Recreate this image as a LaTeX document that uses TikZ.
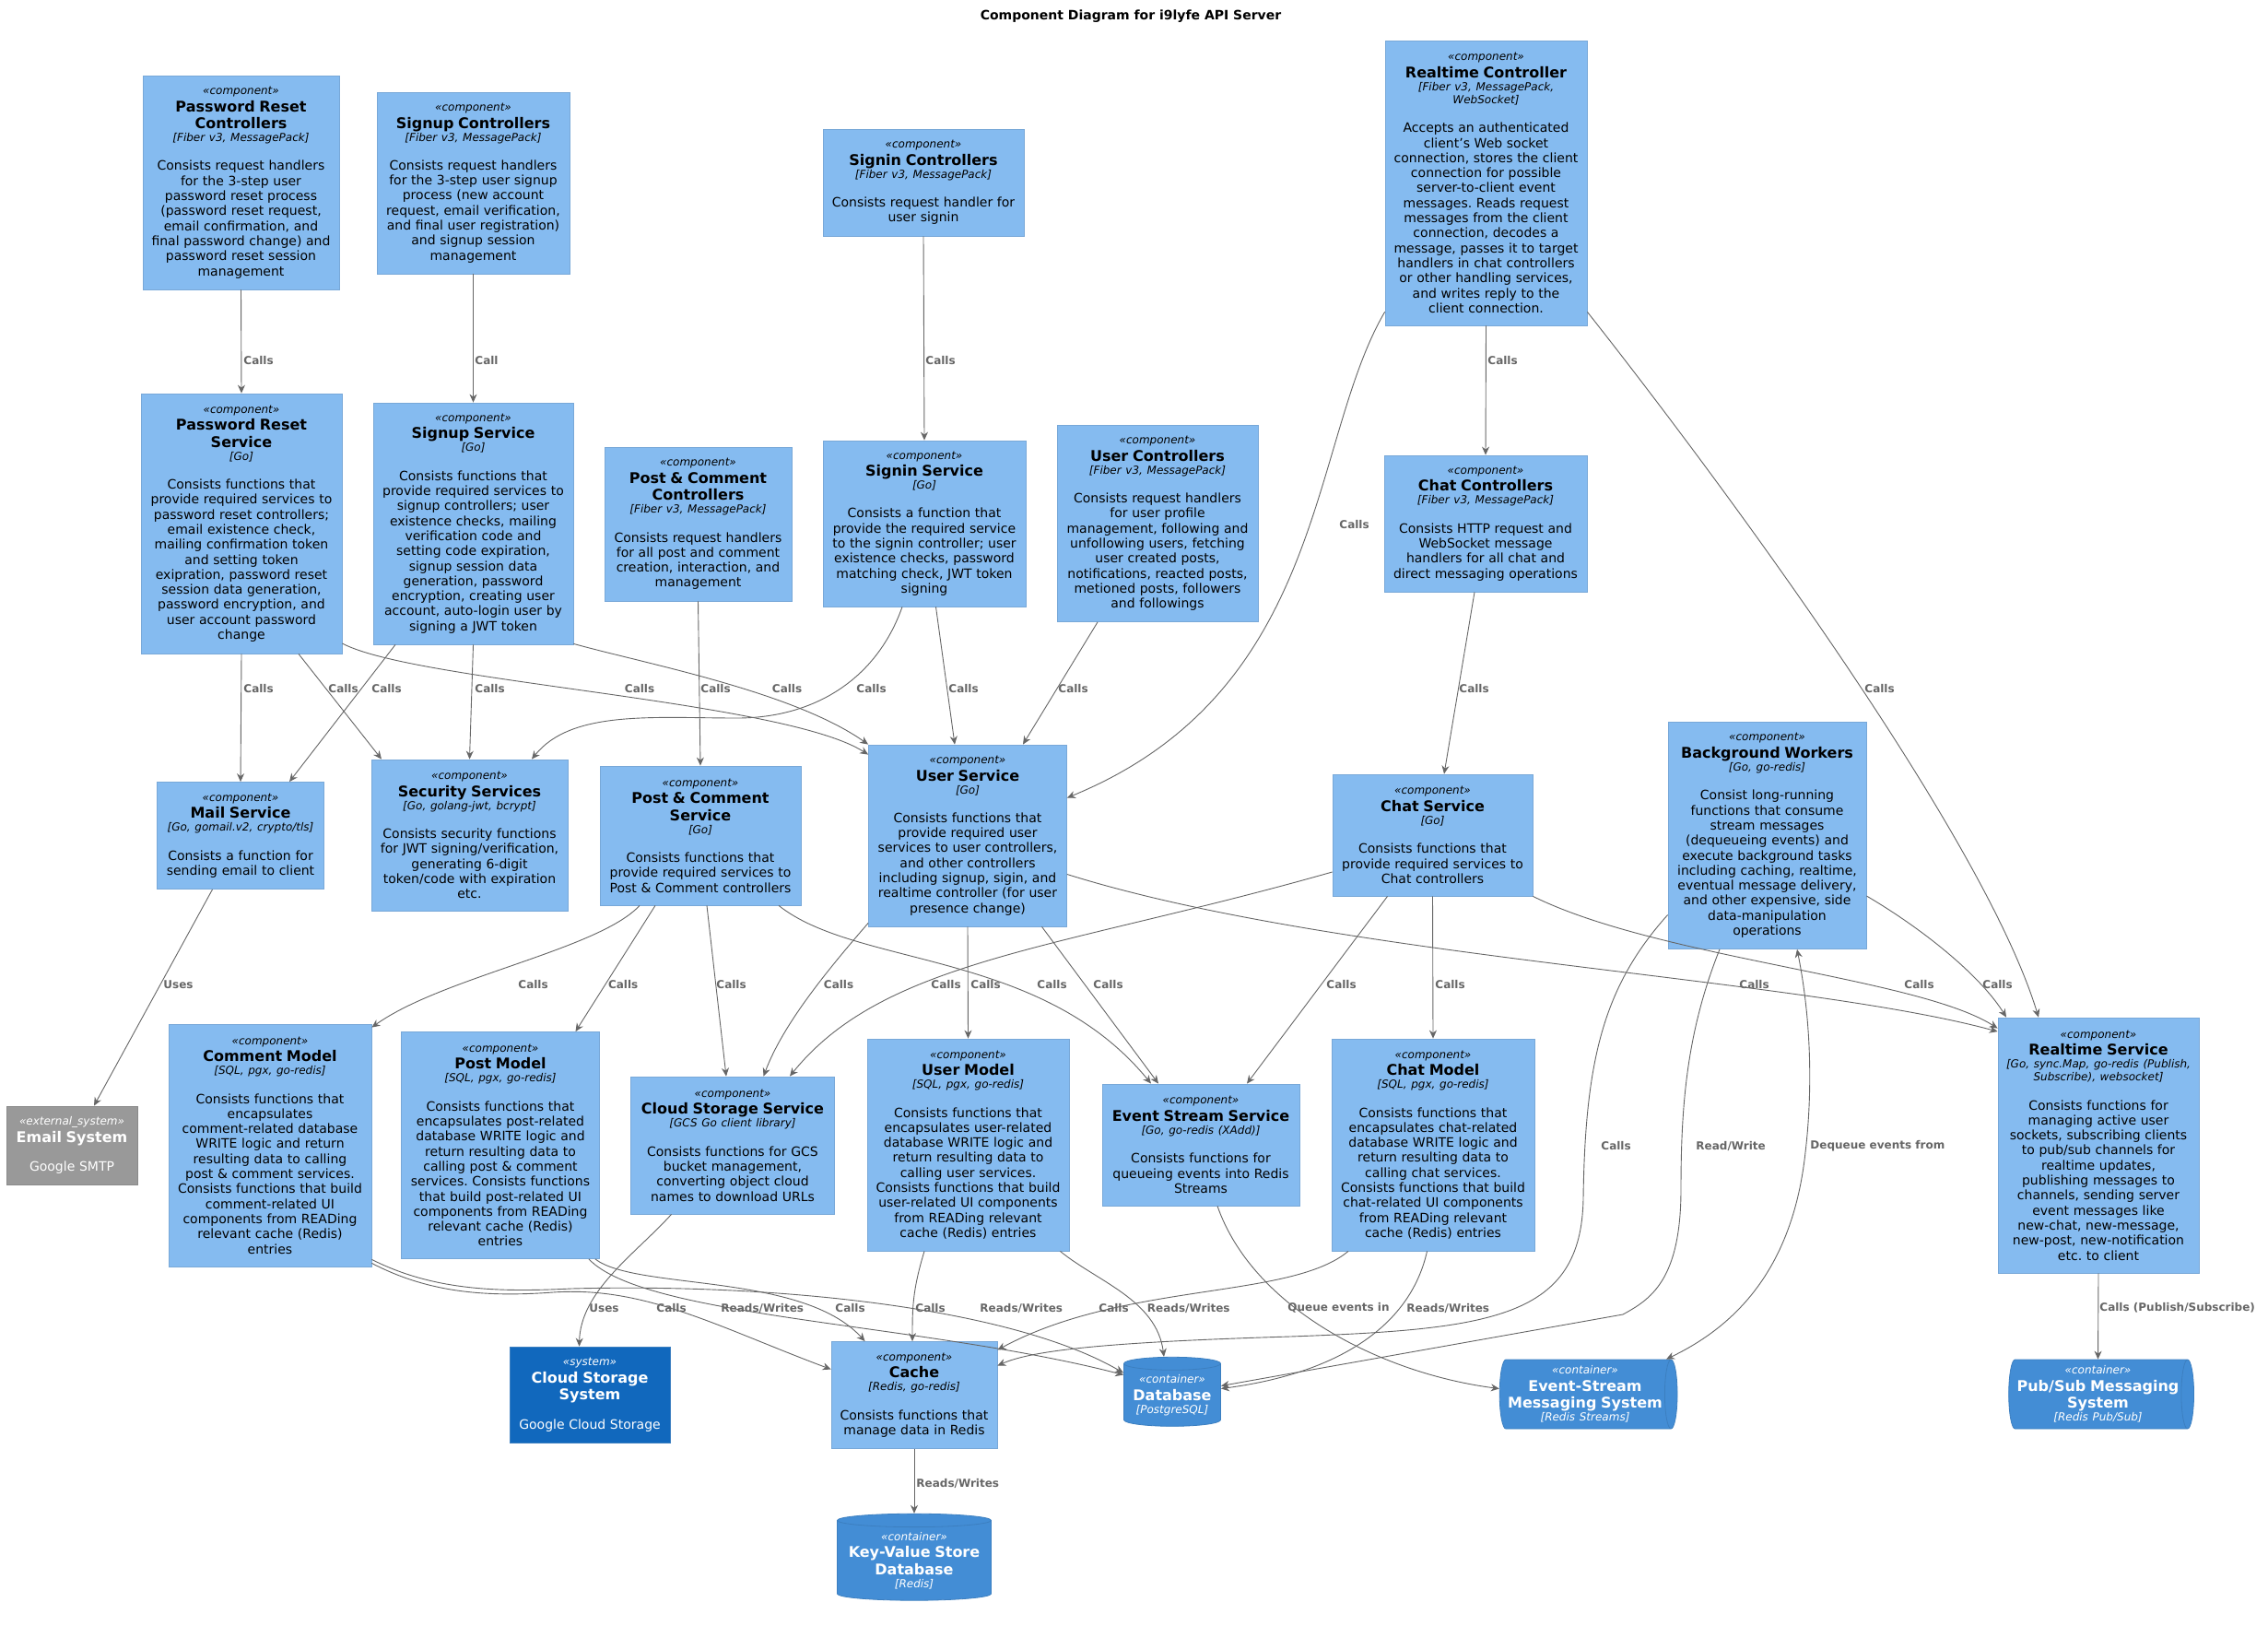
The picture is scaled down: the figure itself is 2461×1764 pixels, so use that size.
\documentclass[tikz,border=0pt]{standalone}
\usepackage{fontspec}
\setmainfont{DejaVu Sans}
\usetikzlibrary{shapes.geometric, positioning, arrows.meta}
\definecolor{C4Comp}{RGB}{133,187,240}
\definecolor{C4CompLine}{RGB}{120,168,216}
\definecolor{C4Cont}{RGB}{67,141,213}
\definecolor{C4ContLine}{RGB}{60,127,192}
\definecolor{C4Sys}{RGB}{17,104,189}
\definecolor{C4Ext}{RGB}{153,153,153}
\definecolor{C4ExtLine}{RGB}{138,138,138}
\definecolor{C4Rel}{RGB}{102,102,102}
\setlength{\parindent}{0pt}
\frenchspacing
\newcommand{\stype}[1]{{\fontsize{12}{14}\selectfont\itshape «#1»\par}}
\newcommand{\cname}[1]{{\fontsize{16}{18.6}\selectfont\bfseries #1\par}}
\newcommand{\ctech}[1]{{\fontsize{12}{14}\selectfont\itshape [#1]\par}}
\newcommand{\cgap}{\vskip 15pt}

\begin{document}
\begin{tikzpicture}[x=1pt, y=-1pt,
          comp/.style={rectangle, fill=C4Comp, draw=C4CompLine, line width=0.8pt,
                       align=center, inner sep=0pt,
                       font=\fontsize{14}{16.3}\selectfont},
          ext/.style={comp, fill=C4Ext, draw=C4ExtLine, text=white},
          sys/.style={comp, fill=C4Sys, draw=C4ContLine, text=white},
          dbase/.style={cylinder, shape border rotate=90, aspect=0.14,
                        fill=C4Cont, draw=C4ContLine, line width=0.8pt,
                        text=white, align=center, inner sep=0pt,
                        font=\fontsize{14}{16.3}\selectfont},
          queue/.style={cylinder, aspect=0.22, fill=C4Cont, draw=C4ContLine,
                        line width=0.8pt, text=white, align=center, inner sep=0pt,
                        minimum width=75pt, font=\fontsize{14}{16.3}\selectfont},
          arr/.style={-{Stealth[length=9pt, width=8pt]}, draw=C4Rel, line width=0.9pt},
          arrtwo/.style={{Stealth[length=9pt, width=8pt]}-{Stealth[length=9pt, width=8pt]},
                         draw=C4Rel, line width=0.9pt},
          lbl/.style={anchor=west, inner sep=0pt, text=C4Rel,
                      font=\fontsize{12}{14}\selectfont\bfseries}
        ]
        \fill[white] (0,0) rectangle (2461,1764);
        \useasboundingbox (0,0) rectangle (2461,1764);

        \node[font=\fontsize{14}{16}\selectfont\bfseries] (title) at (1227,18)
              {Component Diagram for i9lyfe API Server};

        % Controllers
        \node[comp, text width=213pt, minimum height=232pt] (prctl) at (261.5,198)
              {\stype{component}\cname{Password Reset\\Controllers}\ctech{Fiber v3, MessagePack}\cgap
               Consists request handlers\\for the 3-step user\\password reset process\\(password reset request,\\email confirmation, and\\final password change) and\\password reset session\\management};
        \node[comp, text width=209pt, minimum height=197pt] (suctl) at (513.5,198.5)
              {\stype{component}\cname{Signup Controllers}\ctech{Fiber v3, MessagePack}\cgap
               Consists request handlers\\for the 3-step user signup\\process (new account\\request, email verification,\\and final user registration)\\and signup session\\management};
        \node[comp, text width=218pt, minimum height=116pt] (sictl) at (1002,198)
              {\stype{component}\cname{Signin Controllers}\ctech{Fiber v3, MessagePack}\cgap
               Consists request handler for\\user signin};
        \node[comp, text width=219pt, minimum height=309pt] (rtctl) at (1612.5,198.5)
              {\stype{component}\cname{Realtime Controller}\ctech{Fiber v3, MessagePack,\\WebSocket}\cgap
               Accepts an authenticated\\client's Web socket\\connection, stores the client\\connection for possible\\server-to-client event\\messages. Reads request\\messages from the client\\connection, decodes a\\message, passes it to target\\handlers in chat controllers\\or other handling services,\\and writes reply to the\\client connection.};
        \node[comp, text width=203pt, minimum height=167pt] (pcctl) at (757.5,568.5)
              {\stype{component}\cname{Post \& Comment\\Controllers}\ctech{Fiber v3, MessagePack}\cgap
               Consists request handlers\\for all post and comment\\creation, interaction, and\\management};
        \node[comp, text width=218pt, minimum height=213pt] (usrctl) at (1256,568)
              {\stype{component}\cname{User Controllers}\ctech{Fiber v3, MessagePack}\cgap
               Consists request handlers\\for user profile\\management, following and\\unfollowing users, fetching\\user created posts,\\notifications, reacted posts,\\metioned posts, followers\\and followings};
        \node[comp, text width=220pt, minimum height=148pt] (chatctl) at (1612,568)
              {\stype{component}\cname{Chat Controllers}\ctech{Fiber v3, MessagePack}\cgap
               Consists HTTP request and\\WebSocket message\\handlers for all chat and\\direct messaging operations};

        % Services
        \node[comp, text width=218pt, minimum height=282pt] (prsvc) at (262,568)
              {\stype{component}\cname{Password Reset\\Service}\ctech{Go}\cgap
               Consists functions that\\provide required services to\\password reset controllers;\\email existence check,\\mailing confirmation token\\and setting token\\exipration, password reset\\session data generation,\\password encryption, and\\user account password\\change};
        \node[comp, text width=217pt, minimum height=262pt] (susvc) at (513.5,568)
              {\stype{component}\cname{Signup Service}\ctech{Go}\cgap
               Consists functions that\\provide required services to\\signup controllers; user\\existence checks, mailing\\verification code and\\setting code expiration,\\signup session data\\generation, password\\encryption, creating user\\account, auto-login user by\\signing a JWT token};
        \node[comp, text width=220pt, minimum height=180pt] (sisvc) at (1003,568)
              {\stype{component}\cname{Signin Service}\ctech{Go}\cgap
               Consists a function that\\provide the required service\\to the signin controller; user\\existence checks, password\\matching check, JWT token\\signing};
        \node[comp, text width=181pt, minimum height=116pt] (mail) at (261,906.5)
              {\stype{component}\cname{Mail Service}\ctech{Go, gomail.v2, crypto/tls}\cgap
               Consists a function for\\sending email to client};
        \node[comp, text width=213pt, minimum height=164pt] (sec) at (509.5,906)
              {\stype{component}\cname{Security Services}\ctech{Go, golang-jwt, bcrypt}\cgap
               Consists security functions\\for JWT signing/verification,\\generating 6-digit\\token/code with expiration\\etc.};
        \node[comp, text width=218pt, minimum height=151pt] (pcsvc) at (760,906.5)
              {\stype{component}\cname{Post \& Comment\\Service}\ctech{Go}\cgap
               Consists functions that\\provide required services to\\Post \& Comment controllers};
        \node[comp, text width=215pt, minimum height=197pt] (usrsvc) at (1050,906.5)
              {\stype{component}\cname{User Service}\ctech{Go}\cgap
               Consists functions that\\provide required user\\services to user controllers,\\and other controllers\\including signup, sigin, and\\realtime controller (for user\\presence change)};
        \node[comp, text width=217pt, minimum height=132pt] (chatsvc) at (1554.5,906)
              {\stype{component}\cname{Chat Service}\ctech{Go}\cgap
               Consists functions that\\provide required services to\\Chat controllers};
        \node[comp, text width=215pt, minimum height=246pt] (workers) at (1917.5,906.5)
              {\stype{component}\cname{Background Workers}\ctech{Go, go-redis}\cgap
               Consist long-running\\functions that consume\\stream messages\\(dequeueing events) and\\execute background tasks\\including caching, realtime,\\eventual message delivery,\\and other expensive, side\\data-manipulation\\operations};

        % Models and lower services
        \node[comp, text width=220pt, minimum height=263pt] (cmtmdl) at (293,1242.5)
              {\stype{component}\cname{Comment Model}\ctech{SQL, pgx, go-redis}\cgap
               Consists functions that\\encapsulates\\comment-related database\\WRITE logic and return\\resulting data to calling\\post \& comment services.\\Consists functions that build\\comment-related UI\\components from READing\\relevant cache (Redis)\\entries};
        \node[comp, text width=215pt, minimum height=246pt] (postmdl) at (543,1242.5)
              {\stype{component}\cname{Post Model}\ctech{SQL, pgx, go-redis}\cgap
               Consists functions that\\encapsulates post-related\\database WRITE logic and\\return resulting data to\\calling post \& comment\\services. Consists functions\\that build post-related UI\\components from READing\\relevant cache (Redis)\\entries};
        \node[comp, text width=221pt, minimum height=149pt] (gcs) at (795,1242.5)
              {\stype{component}\cname{Cloud Storage Service}\ctech{GCS Go client library}\cgap
               Consists functions for GCS\\bucket management,\\converting object cloud\\names to download URLs};
        \node[comp, text width=219pt, minimum height=230pt] (usrmdl) at (1050.5,1242)
              {\stype{component}\cname{User Model}\ctech{SQL, pgx, go-redis}\cgap
               Consists functions that\\encapsulates user-related\\database WRITE logic and\\return resulting data to\\calling user services.\\Consists functions that build\\user-related UI components\\from READing relevant\\cache (Redis) entries};
        \node[comp, text width=214pt, minimum height=132pt] (evsvc) at (1303,1242)
              {\stype{component}\cname{Event Stream Service}\ctech{Go, go-redis (XAdd)}\cgap
               Consists functions for\\queueing events into Redis\\Streams};
        \node[comp, text width=220pt, minimum height=230pt] (chatmdl) at (1555,1242)
              {\stype{component}\cname{Chat Model}\ctech{SQL, pgx, go-redis}\cgap
               Consists functions that\\encapsulates chat-related\\database WRITE logic and\\return resulting data to\\calling chat services.\\Consists functions that build\\chat-related UI components\\from READing relevant\\cache (Redis) entries};
        \node[comp, text width=218pt, minimum height=277pt] (rtsvc) at (2277,1242.5)
              {\stype{component}\cname{Realtime Service}\ctech{Go, sync.Map, go-redis (Publish,\\Subscribe), websocket}\cgap
               Consists functions for\\managing active user\\sockets, subscribing clients\\to pub/sub channels for\\realtime updates,\\publishing messages to\\channels, sending server\\event messages like\\new-chat, new-message,\\new-post, new-notification\\etc. to client};
        \node[comp, text width=180pt, minimum height=116pt] (cache) at (992,1513.5)
              {\stype{component}\cname{Cache}\ctech{Redis, go-redis}\cgap
               Consists functions that\\manage data in Redis};

        % Systems and containers
        \node[ext, text width=142pt, minimum height=85pt] (email) at (78,1242.5)
              {\stype{external\_system}\cname{Email System}\cgap Google SMTP};
        \node[sys, text width=174pt, minimum height=104pt] (gcssys) at (640,1513)
              {\stype{system}\cname{Cloud Storage\\System}\cgap Google Cloud Storage};
        \node[dbase, text width=100pt, minimum width=105pt, minimum height=75pt] (pgdb) at (1272,1513.5)
              {\stype{container}\cname{Database}\ctech{PostgreSQL}};
        \node[queue, text width=172pt, minimum height=188pt] (evmq) at (1720,1512.5)
              {\stype{container}\cname{Event-Stream\\Messaging System}\ctech{Redis Streams}};
        \node[queue, text width=180pt, minimum height=196pt] (pubsub) at (2276.5,1512.5)
              {\stype{container}\cname{Pub/Sub Messaging\\System}\ctech{Redis Pub/Sub}};
        \node[dbase, aspect=0.09, text width=160pt, minimum width=167pt, minimum height=94pt] (kvdb) at (992,1693)
              {\stype{container}\cname{Key-Value Store\\Database}\ctech{Redis}};

        % Controllers -> services
        \draw[arr] (prctl.south) -- (prsvc.north) node[lbl] at (264,391) {Calls};
        \draw[arr] (suctl.south) -- (susvc.north) node[lbl] at (515,391) {Call};
        \draw[arr] (sictl.south) -- (sisvc.north) node[lbl] at (1004,391) {Calls};
        \draw[arr] (rtctl.south) -- (chatctl.north) node[lbl] at (1614,391) {Calls};
        \draw[arr] ([yshift=15pt]rtctl.south west) .. controls (1420,480) and (1440,750)
              .. ([yshift=41pt]usrsvc.east) node[lbl] at (1453,569) {Calls};
        \draw[arr] ([yshift=15pt]rtctl.south east) .. controls (1850,500) and (2150,900)
              .. ([xshift=-65pt]rtsvc.north) node[lbl] at (2023,747) {Calls};

        \draw[arr] (prsvc.south) -- (mail.north) node[lbl] at (264,747) {Calls};
        \draw[arr] ([xshift=62pt]prsvc.south) -- ([xshift=-95.5pt]sec.north)
              node[lbl] at (356,747) {Calls};
        \draw[arr] ([xshift=-84.5pt]susvc.south) -- ([xshift=53pt]mail.north)
              node[lbl] at (403,747) {Calls};
        \draw[arr] (susvc.south) -- (sec.north) node[lbl] at (515,747) {Calls};
        \draw[arr] ([yshift=-130pt]prsvc.east) .. controls (450,740) and (850,760)
              .. ([yshift=-11pt]usrsvc.north west) node[lbl] at (677.5,747) {Calls};
        \draw[arr] ([yshift=1pt]susvc.south east) .. controls (700,720) and (860,750)
              .. (usrsvc.north west) node[lbl] at (837.5,747) {Calls};
        \draw[arr] (pcctl.south) -- (pcsvc.north) node[lbl] at (760,747) {Calls};
        \draw[arr] ([xshift=-24pt]sisvc.south) .. controls (950,740) and (880,779) .. (800,779)
              .. controls (710,779) and (620,770) .. ([xshift=67.5pt]sec.north)
              node[lbl] at (929,747) {Calls};
        \draw[arr] ([xshift=12.5pt]sisvc.south) -- ([xshift=-14pt]usrsvc.north)
              node[lbl] at (1029,747) {Calls};
        \draw[arr] ([xshift=-65pt]usrctl.south) -- ([xshift=60pt]usrsvc.north)
              node[lbl] at (1148,747) {Calls};
        \draw[arr] ([xshift=-12pt]chatctl.south) -- ([xshift=12.5pt]chatsvc.north)
              node[lbl] at (1583,747) {Calls};

        % Services -> models
        \draw[arr] ([xshift=-30.5pt]mail.south) -- ([xshift=24pt]email.north)
              node[lbl] at (177,1068) {Uses};
        \draw[arr] ([xshift=-66pt]pcsvc.south) .. controls (650,1030) and (480,1060)
              .. ([yshift=-4pt]cmtmdl.north east) node[lbl] at (562,1068) {Calls};
        \draw[arr] ([xshift=-49pt]pcsvc.south) -- ([xshift=81.5pt]postmdl.north)
              node[lbl] at (659.6,1068) {Calls};
        \draw[arr] ([xshift=7pt]pcsvc.south) -- ([xshift=-7pt]gcs.north)
              node[lbl] at (777,1068) {Calls};
        \draw[arr] ([xshift=85pt]pcsvc.south) .. controls (930,1050) and (1130,1030)
              .. ([xshift=-54pt]evsvc.north) node[lbl] at (1125,1068) {Calls};
        \draw[arr] ([yshift=4pt]usrsvc.south west) .. controls (900,1050) and (850,1110)
              .. ([xshift=33.5pt]gcs.north) node[lbl] at (893.5,1068) {Calls};
        \draw[arr] ([yshift=-40pt]chatsvc.west) .. controls (1150,1030) and (960,1040)
              .. ([xshift=62pt]gcs.north) node[lbl] at (1010,1068) {Calls};
        \draw[arr] (usrsvc.south) -- (usrmdl.north) node[lbl] at (1053,1068) {Calls};
        \draw[arr] ([xshift=80.5pt]usrsvc.south) -- ([xshift=-46pt]evsvc.north)
              node[lbl] at (1186,1068) {Calls};
        \draw[arr] ([xshift=-49pt]chatsvc.south) -- ([xshift=50pt]evsvc.north)
              node[lbl] at (1439,1068) {Calls};
        \draw[arr] (chatsvc.south) -- (chatmdl.north) node[lbl] at (1557,1068) {Calls};
        \draw[arr] ([yshift=-42pt]usrsvc.east) .. controls (1450,1040) and (1950,1060)
              .. ([yshift=-15.5pt]rtsvc.north west) node[lbl] at (1887,1068) {Calls};
        \draw[arr] (chatsvc.south east) .. controls (1800,1040) and (2080,1060)
              .. ([yshift=-12pt]rtsvc.north west) node[lbl] at (2066,1068) {Calls};
        \draw[arr] ([yshift=-65.5pt]workers.east) .. controls (2090,1010) and (2150,1060)
              .. ([xshift=-100pt]rtsvc.north) node[lbl] at (2151,1068) {Calls};

        % Background workers
        \draw[arr] ([yshift=-86pt]workers.west) .. controls (1740,1070) and (1720,1150) .. (1718,1300)
              .. controls (1716,1430) and (1620,1442) .. (1400,1450)
              .. controls (1200,1456) and (1120,1465) .. ([yshift=32pt]cache.east)
              node[lbl] at (1737,1243) {Calls};
        \draw[arr] ([xshift=-51.5pt]workers.south) .. controls (1830,1120) and (1824,1200) .. (1824,1290)
              .. controls (1824,1390) and (1790,1410) .. (1761,1426)
              -- ([yshift=10pt]pgdb.east) node[lbl] at (1840,1243) {Read/Write};
        \draw[arrtwo] ([xshift=32.5pt]workers.south) .. controls (1968,1120) and (1965,1200) .. (1959,1250)
              .. controls (1945,1380) and (1880,1440) .. ([xshift=88pt]evmq.north)
              node[lbl] at (1964,1243) {Dequeue events from};

        % Models -> stores
        \draw[arr] ([xshift=18pt]evsvc.south) .. controls (1360,1420) and (1500,1490)
              .. ([yshift=6pt]evmq.west) node[lbl] at (1397,1419) {Queue events in};
        \draw[arr] (rtsvc.south) -- (pubsub.north)
              node[lbl] at (2278,1419) {Calls (Publish/Subscribe)};
        \draw[arr] ([xshift=-66.5pt]gcs.south) .. controls (690,1360) and (630,1400)
              .. ([xshift=-11.5pt]gcssys.north) node[lbl] at (639,1419) {Uses};
        \draw[arr] ([yshift=4pt]cmtmdl.south east) .. controls (460,1400) and (520,1408) .. (600,1402)
              .. controls (700,1395) and (780,1440) .. ([yshift=28pt]cache.west)
              node[lbl] at (712,1419) {Calls};
        \draw[arr] ([yshift=8pt]cmtmdl.south east) .. controls (470,1400) and (540,1402) .. (620,1398)
              .. controls (850,1392) and (1100,1420) .. ([yshift=24pt]pgdb.west)
              node[lbl] at (782,1419) {Reads/Writes};
        \draw[arr] ([xshift=-5pt]postmdl.south east) .. controls (690,1400) and (870,1380)
              .. ([xshift=37pt]cache.north west) node[lbl] at (906,1419) {Calls};
        \draw[arr] ([xshift=-12pt]postmdl.south east) .. controls (700,1430) and (1000,1435)
              .. ([yshift=22pt]pgdb.west) node[lbl] at (1063,1419) {Reads/Writes};
        \draw[arr] ([xshift=-47.5pt]usrmdl.south) .. controls (990,1400) and (990,1420)
              .. ([xshift=-2pt]cache.north) node[lbl] at (993,1419) {Calls};
        \draw[arr] ([xshift=-10pt]usrmdl.south east) .. controls (1190,1390) and (1255,1410)
              .. ([xshift=-9pt]pgdb.north) node[lbl] at (1244.5,1419) {Reads/Writes};
        \draw[arr] ([xshift=-92pt]chatmdl.south) .. controls (1400,1410) and (1220,1390)
              .. ([yshift=49pt]cache.east) node[lbl] at (1192,1419) {Calls};
        \draw[arr] ([xshift=-6.5pt]chatmdl.south) .. controls (1530,1440) and (1450,1490)
              .. ([yshift=7pt]pgdb.east) node[lbl] at (1526,1419) {Reads/Writes};
        \draw[arr] (cache.south) -- (kvdb.north) node[lbl] at (994,1609) {Reads/Writes};
      \end{tikzpicture}
\end{document}
